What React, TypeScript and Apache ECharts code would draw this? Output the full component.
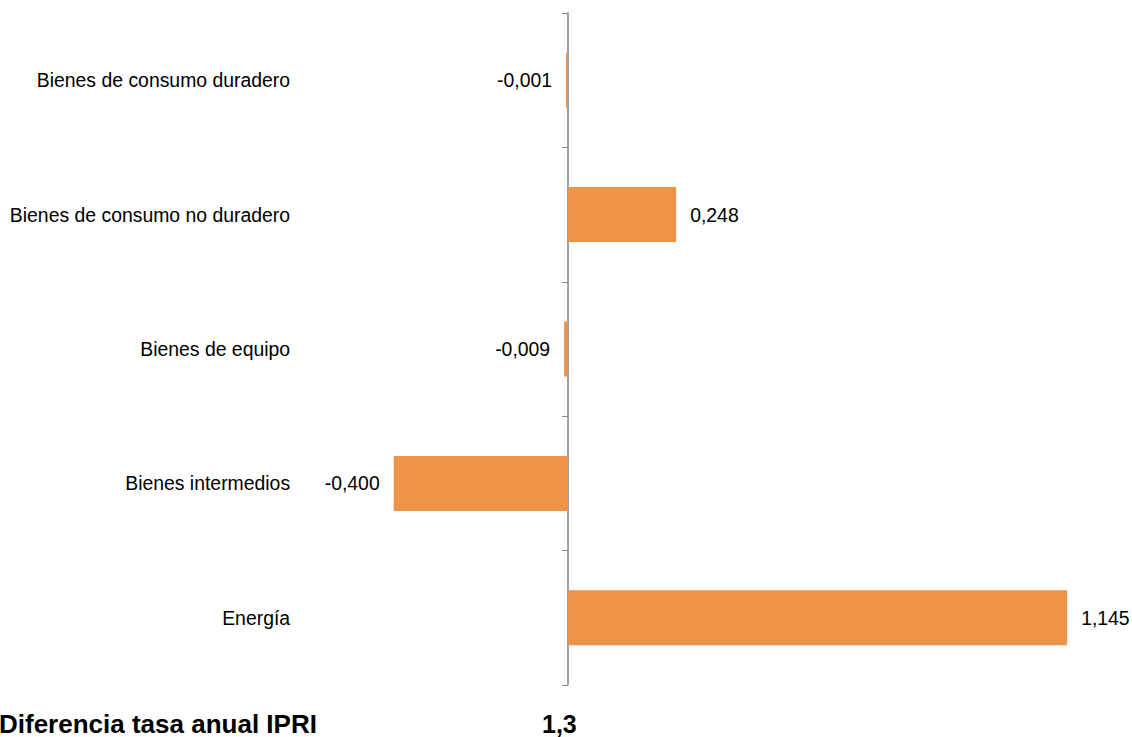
import React, { useEffect, useRef } from "react";
import * as echarts from "echarts";

const categories = [
  "Energía",
  "Bienes intermedios",
  "Bienes de equipo",
  "Bienes de consumo no duradero",
  "Bienes de consumo duradero",
];
const values = [1.145, -0.4, -0.009, 0.248, -0.001];
const footerLabel = "Diferencia tasa anual IPRI";
const footerValue = "1,3";

const fmt = (v: number) => v.toFixed(3).replace(".", ",");

export default function App() {
  const ref = useRef<HTMLDivElement>(null);
  useEffect(() => {
    if (!ref.current) return;
    const chart = echarts.init(ref.current, undefined, { renderer: "svg" });
    const font = "Arial, 'Liberation Sans', sans-serif";
    chart.setOption({
      animation: false,
      grid: {
        left: 350.1,
        right: 40.9,
        top: 13,
        bottom: 52,
        containLabel: false,
        outerBoundsMode: "none",
      },
      xAxis: {
        type: "value",
        min: -0.5,
        max: 1.2,
        show: false,
        splitLine: { show: false },
      },
      yAxis: {
        type: "category",
        data: categories,
        axisLine: { show: true, onZero: true, lineStyle: { color: "#868686", width: 1.5 } },
        axisTick: { show: true, length: 6, lineStyle: { color: "#868686", width: 1 } },
        axisLabel: {
          margin: 60,
          color: "#000",
          fontSize: 19.4,
          fontFamily: font,
        },
      },
      series: [
        {
          type: "bar",
          barWidth: 55,
          barMinHeight: 2,
          data: values.map((v) => ({
            value: v,
            label: { position: v < 0 ? "left" : "right" },
          })),
          itemStyle: { color: "#ED9448" },
          label: {
            show: true,
            distance: 14,
            color: "#000",
            fontSize: 19.4,
            fontFamily: font,
            formatter: (p: any) => fmt(p.value),
          },
        },
      ],
      graphic: [
        {
          type: "text",
          x: -1,
          y: 724,
          style: {
            text: footerLabel,
            fontSize: 26,
            fontWeight: "bold",
            fontFamily: font,
            fill: "#000",
            verticalAlign: "middle",
          },
        },
        {
          type: "text",
          x: 542,
          y: 724,
          style: {
            text: footerValue,
            fontSize: 25,
            fontWeight: "bold",
            fontFamily: font,
            fill: "#000",
            verticalAlign: "middle",
          },
        },
      ],
    });
    return () => chart.dispose();
  }, []);
  return (
    <div
      ref={ref}
      style={{ position: "fixed", left: 0, top: 0, width: 1132, height: 737, background: "#fff" }}
    />
  );
}
